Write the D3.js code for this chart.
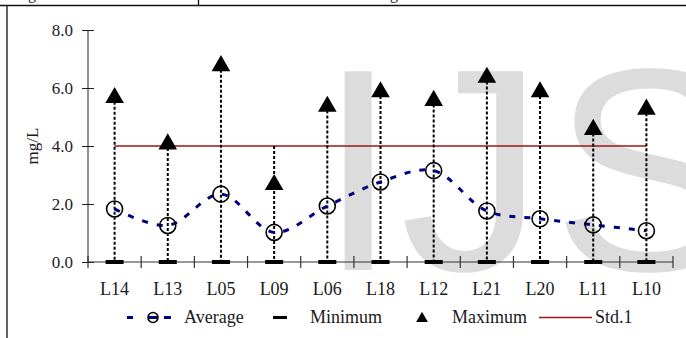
<!DOCTYPE html>
<html>
<head>
<meta charset="utf-8">
<script src="https://cdn.jsdelivr.net/npm/d3@7"></script>
<style>
  html, body { margin: 0; padding: 0; background: #fff; }
  svg { display: block; }
</style>
</head>
<body>
<svg id="chart" width="686" height="338"></svg>
<script>
// Sampling stations, left to right
const stations = ["L14", "L13", "L05", "L09", "L06", "L18", "L12", "L21", "L20", "L11", "L10"];
// Concentrations in mg/L
const averageValues = [1.83, 1.26, 2.34, 1.02, 1.93, 2.76, 3.15, 1.76, 1.49, 1.28, 1.08];
const minimumValues = [0, 0, 0, 0, 0, 0, 0, 0, 0, 0, 0];
const maximumValues = [5.7, 4.1, 6.8, 2.7, 5.4, 5.9, 5.6, 6.4, 5.9, 4.6, 5.3];
const standardValues = [4.0, 4.0, 4.0, 4.0, 4.0, 4.0, 4.0, 4.0, 4.0, 4.0, 4.0];
const yTicks = [0, 2, 4, 6, 8];
const legendLabels = ["Average", "Minimum", "Maximum", "Std.1"];

const SERIF = "'Liberation Serif', 'Times New Roman', serif";
const SANS = "'Liberation Sans', Arial, sans-serif";

const svg = d3.select("#chart");

// Background watermark lettering
const mark = svg.append("g");
[["I", 318], ["J", 400], ["S", 552]].forEach(([ch, px]) => {
  mark.append("text").attr("x", px).attr("y", 270)
    .style("font-family", SANS).style("font-size", "289px").style("fill", "#dcdcdc")
    .text(ch);
});

// Frame lines and the cut-off caption above
svg.append("line").attr("x1", 0).attr("x2", 686).attr("y1", 5.5).attr("y2", 5.5)
  .attr("stroke", "#111").attr("stroke-width", 1.3);
svg.append("line").attr("x1", 7).attr("x2", 7).attr("y1", 5).attr("y2", 338)
  .attr("stroke", "#111").attr("stroke-width", 1.3);
svg.append("line").attr("x1", 198.5).attr("x2", 198.5).attr("y1", 0).attr("y2", 5)
  .attr("stroke", "#111").attr("stroke-width", 1.3);
svg.append("text").attr("x", 28).attr("y", -1)
  .style("font-family", SERIF).style("font-size", "16px").style("fill", "#1a1a1a").text("g");
svg.append("text").attr("x", 390).attr("y", -1)
  .style("font-family", SERIF).style("font-size", "16px").style("fill", "#1a1a1a").text("g");

// Scales
const x = d3.scaleBand().domain(stations).range([88, 673]).padding(0);
const y = d3.scaleLinear().domain([0, 8]).range([262, 30]);
const cx = d => x(d) + x.bandwidth() / 2;

// Y axis
const yAxis = svg.append("g").attr("transform", "translate(88,0)")
  .call(d3.axisLeft(y).tickValues(yTicks).tickFormat(d3.format(".1f")).tickSize(6).tickPadding(9));
yAxis.attr("font-family", null).attr("font-size", null);
yAxis.select(".domain").attr("stroke", "#222").attr("d", `M0,${y(8)}V${y(0)}`);
yAxis.selectAll(".tick line").attr("x1", 6).attr("stroke", "#222");
yAxis.selectAll(".tick text")
  .style("font-family", SERIF).style("font-size", "17px").style("fill", "#222");

// Y axis title
svg.append("text")
  .attr("transform", `translate(38,${(y(0) + y(8)) / 2}) rotate(-90)`)
  .attr("text-anchor", "middle")
  .style("font-family", SERIF).style("font-size", "17px").style("fill", "#1a1a1a")
  .text("mg/L");

// Std.1 reference line between the first and last station
const stdLine = d3.line().x((d, i) => cx(stations[i])).y(d => y(d));
svg.append("path").datum(standardValues).attr("d", stdLine)
  .attr("fill", "none").attr("stroke", "#a01414").attr("stroke-width", 1.6);

// Drop lines from the highest value at each station down to the axis
svg.append("g").selectAll("line").data(stations).join("line")
  .attr("x1", d => cx(d)).attr("x2", d => cx(d))
  .attr("y1", (d, i) => y(Math.max(maximumValues[i], standardValues[i], averageValues[i])))
  .attr("y2", (d, i) => y(minimumValues[i]))
  .attr("stroke", "#000").attr("stroke-width", 2).attr("stroke-dasharray", "3,2");

// X axis with boundary ticks
svg.append("line").attr("x1", 88).attr("x2", 673).attr("y1", y(0)).attr("y2", y(0))
  .attr("stroke", "#333").attr("stroke-width", 1.2);
const edges = stations.map(d => x(d)).concat([x.range()[1]]);
svg.append("g").selectAll("line").data(edges).join("line")
  .attr("x1", d => d).attr("x2", d => d).attr("y1", y(0) - 6).attr("y2", y(0) + 6)
  .attr("stroke", "#333").attr("stroke-width", 1.2);
svg.append("g").selectAll("text").data(stations).join("text")
  .attr("x", d => cx(d)).attr("y", 295).attr("text-anchor", "middle")
  .style("font-family", SERIF).style("font-size", "18px").style("fill", "#1a1a1a")
  .text(d => d);

// Average: smoothed dashed navy line with open circles
const avgLine = d3.line().x((d, i) => cx(stations[i])).y(d => y(d)).curve(d3.curveCatmullRom.alpha(0.5));
svg.append("path").datum(averageValues).attr("d", avgLine)
  .attr("fill", "none").attr("stroke", "#000080").attr("stroke-width", 3)
  .attr("stroke-dasharray", "6,9");
svg.append("g").selectAll("circle").data(averageValues).join("circle")
  .attr("cx", (d, i) => cx(stations[i])).attr("cy", d => y(d)).attr("r", 8)
  .attr("fill", "none").attr("stroke", "#000").attr("stroke-width", 1.6);

// Minimum: flat black bars
svg.append("g").selectAll("rect").data(minimumValues).join("rect")
  .attr("x", (d, i) => cx(stations[i]) - 9).attr("y", d => y(d) - 2)
  .attr("width", 18).attr("height", 4).attr("fill", "#000");

// Maximum: filled triangles
const tri = d3.symbol().type(d3.symbolTriangle).size(150);
svg.append("g").selectAll("path").data(maximumValues).join("path")
  .attr("transform", (d, i) => `translate(${cx(stations[i])},${y(d) + 1})`)
  .attr("d", tri).attr("fill", "#000");

// Legend
const ly = 317.5;
const legend = svg.append("g");
[[127, 133], [149, 157], [164, 171]].forEach(([a, b]) => {
  legend.append("line").attr("x1", a).attr("x2", b).attr("y1", ly).attr("y2", ly)
    .attr("stroke", "#000080").attr("stroke-width", 3);
});
legend.append("circle").attr("cx", 153).attr("cy", ly).attr("r", 5)
  .attr("fill", "none").attr("stroke", "#000").attr("stroke-width", 1.6);
legend.append("rect").attr("x", 273).attr("y", ly - 1.5).attr("width", 14).attr("height", 3).attr("fill", "#000");
legend.append("path").attr("transform", `translate(422,${ly + 1})`)
  .attr("d", d3.symbol().type(d3.symbolTriangle).size(60)).attr("fill", "#000");
legend.append("line").attr("x1", 539).attr("x2", 592).attr("y1", ly).attr("y2", ly)
  .attr("stroke", "#a01414").attr("stroke-width", 1.6);
const labelX = [184, 310, 452, 595];
legend.selectAll("text").data(legendLabels).join("text")
  .attr("x", (d, i) => labelX[i]).attr("y", ly + 5.5)
  .style("font-family", SERIF).style("font-size", "18px").style("fill", "#1a1a1a")
  .text(d => d);
</script>
</body>
</html>
